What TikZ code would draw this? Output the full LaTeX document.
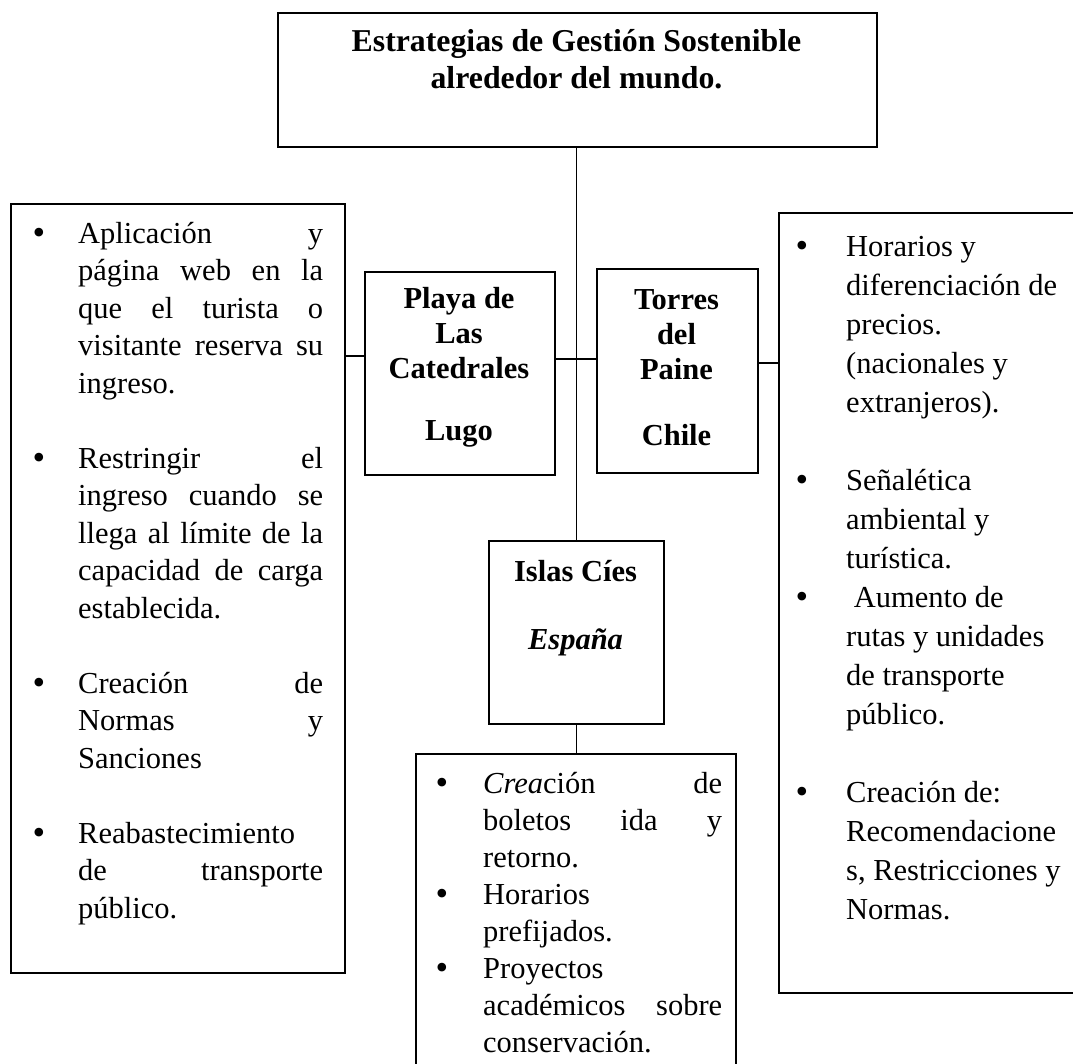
\documentclass[tikz,border=0pt]{standalone}
\usepackage{fontspec}
\setmainfont{Liberation Serif}
\newcommand{\itembul}[1]{\llap{\raisebox{-1pt}{\fontsize{36}{36}\selectfont\textbullet}\hspace{#1}}}
\begin{document}
\begin{tikzpicture}[x=1pt,y=-1pt,
  box/.style={draw=black, line width=1.8pt, inner sep=0pt, anchor=north west},
  conn/.style={draw=black, line width=1.5pt},
  body/.style={inner sep=0pt, anchor=north west, align=left, font=\fontsize{30.5}{37.5}\selectfont},
  head/.style={inner sep=0pt, anchor=north, align=center, font=\fontsize{30.5}{35}\selectfont\bfseries}]
\useasboundingbox (0,0) rectangle (1073,1064);
\clip (0,0) rectangle (1073,1064);
% boxes
\node[box, minimum width=599pt, minimum height=134pt] (top) at (277,12) {};
\node[box, minimum width=334pt, minimum height=769pt] (lb) at (10,203) {};
\node[box, minimum width=190pt, minimum height=203pt] (playa) at (364,271) {};
\node[box, minimum width=161pt, minimum height=204pt] (torres) at (596,268) {};
\node[box, minimum width=175pt, minimum height=183pt] (islas) at (488,540) {};
\node[box, minimum width=334pt, minimum height=780pt] (rb) at (778,212) {};
\node[box, minimum width=320pt, minimum height=320pt] (bb) at (415,753) {};
% texts
\node[head, font=\fontsize{31.8}{37}\selectfont\bfseries] (title) at (576.5,23) {\rule{0pt}{28pt}Estrategias de Gestión Sostenible\\alrededor del mundo.};
\node[head] (playatxt) at (459,280) {\rule{0pt}{28pt}Playa de\\Las\\Catedrales\\[27pt]Lugo};
\node[head] (torrestxt) at (676.5,281) {\rule{0pt}{28pt}Torres\\del\\Paine\\[31pt]Chile};
\node[head] (islastxt) at (575.5,553) {\rule{0pt}{28pt}Islas Cíes\\[33pt]\textit{España}};
\node[body] (lefttxt) at (78,215) {\rule{0pt}{28pt}\itembul{33pt}\makebox[245pt][s]{Aplicación y}\\
\makebox[245pt][s]{página web en la}\\
\makebox[245pt][s]{que el turista o}\\
\makebox[245pt][s]{visitante reserva su}\\
ingreso.\\[37.5pt]
\itembul{33pt}\makebox[245pt][s]{Restringir el}\\
\makebox[245pt][s]{ingreso cuando se}\\
\makebox[245pt][s]{llega al límite de la}\\
\makebox[245pt][s]{capacidad de carga}\\
establecida.\\[37.5pt]
\itembul{33pt}\makebox[245pt][s]{Creación de}\\
\makebox[245pt][s]{Normas y}\\
Sanciones\\[37.5pt]
\itembul{33pt}Reabastecimiento\\
\makebox[245pt][s]{de transporte}\\
público.};
\node[body, font=\fontsize{30.5}{39}\selectfont] (righttxt) at (846,228) {\rule{0pt}{28pt}\itembul{38pt}Horarios y\\
diferenciación de\\
precios.\\
(nacionales y\\
extranjeros).\\[39pt]
\itembul{38pt}Señalética\\
ambiental y\\
turística.\\
\itembul{38pt}\ Aumento de\\
rutas y unidades\\
de transporte\\
público.\\[39pt]
\itembul{38pt}Creación de:\\
Recomendacione\\
s, Restricciones y\\
Normas.};
\node[body, font=\fontsize{30.5}{37}\selectfont] (bottomtxt) at (483,765) {\rule{0pt}{28pt}\itembul{35pt}\makebox[239pt][s]{\textit{Crea}ción de}\\
\makebox[239pt][s]{boletos ida y}\\
retorno.\\
\itembul{35pt}Horarios\\
prefijados.\\
\itembul{35pt}Proyectos\\
\makebox[239pt][s]{académicos sobre}\\
conservación.};
% connectors
\coordinate (yl) at (0,356);
\coordinate (ym) at (0,359);
\coordinate (yr) at (0,363);
\draw[conn] (top.south -| islas.north) -- (islas.north);
\draw[conn] (lb.east |- yl) -- (playa.west |- yl);
\draw[conn] (playa.east |- ym) -- (torres.west |- ym);
\draw[conn] (torres.east |- yr) -- (rb.west |- yr);
\draw[conn] (islas.south) -- (bb.north -| islas.south);
\end{tikzpicture}
\end{document}
